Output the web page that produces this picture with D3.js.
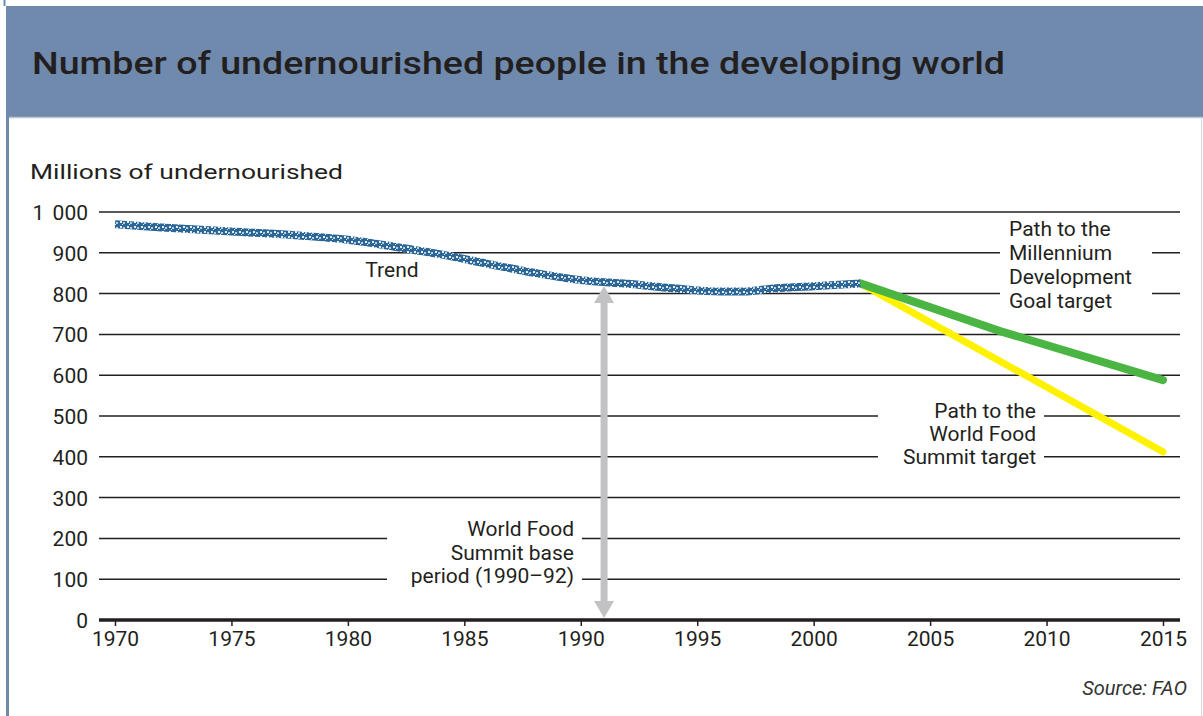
<!DOCTYPE html>
<html>
<head>
<meta charset="utf-8">
<script src="https://cdn.jsdelivr.net/npm/d3@7"></script>
<style>
  body { margin: 0; background: #fff; }
  svg { display: block; font-family: Roboto, "DejaVu Sans", sans-serif; }
</style>
</head>
<body>
<svg id="chart" width="1203" height="716"></svg>
<script>
// ---- data ----
var trendYears  = [1970, 1972, 1975, 1978, 1980, 1982, 1984, 1986, 1988, 1990, 1992, 1994, 1996, 1997, 1998, 2000, 2002];
var trendValues = [970, 962, 952, 942, 932, 915, 896, 873, 851, 833, 824, 813, 805, 805, 811, 818, 825];

var mdgYears  = [2002, 2008, 2015];
var mdgValues = [825, 708, 588];

var wfsYears  = [2002, 2015];
var wfsValues = [825, 412];

var baseYear = 1991;            // arrow for the 1990-92 base period
var baseValue = 826;

var yTicks = [0, 100, 200, 300, 400, 500, 600, 700, 800, 900, 1000];
var yTickLabels = ["0", "100", "200", "300", "400", "500", "600", "700", "800", "900", "1 000"];
var xTicks = [1970, 1975, 1980, 1985, 1990, 1995, 2000, 2005, 2010, 2015];

var titleText = "Number of undernourished people in the developing world";
var yLabelText = "Millions of undernourished";
var mdgLabel = ["Path to the", "Millennium", "Development", "Goal target"];
var wfsLabel = ["Path to the", "World Food", "Summit target"];
var baseLabel = ["World Food", "Summit base", "period (1990\u201392)"];

var ink = "#231f20";

var svg = d3.select("#chart");

// frame and header band
svg.append("rect").attr("x", 6).attr("y", 6).attr("width", 1197).attr("height", 111).attr("fill", "#6f8aad");
svg.append("line").attr("x1", 6).attr("x2", 1203).attr("y1", 117.5).attr("y2", 117.5)
  .attr("stroke", "#b9c6d8").attr("stroke-width", 1.5);
svg.append("rect").attr("x", 6).attr("y", 6).attr("width", 3).attr("height", 710).attr("fill", "#6f8aad");
svg.append("line").attr("x1", 4.5).attr("x2", 4.5).attr("y1", 0).attr("y2", 6)
  .attr("stroke", "#6f8aad").attr("stroke-width", 2);
svg.append("line").attr("x1", 1201.5).attr("x2", 1201.5).attr("y1", 118).attr("y2", 716)
  .attr("stroke", "#d5dbe4").attr("stroke-width", 1);

svg.append("text")
  .attr("x", 32).attr("y", 74)
  .attr("font-size", 32).attr("font-weight", 500)
  .attr("fill", ink)
  .attr("textLength", 973).attr("lengthAdjust", "spacingAndGlyphs")
  .text(titleText);

svg.append("text")
  .attr("x", 30).attr("y", 179)
  .attr("font-size", 21)
  .attr("fill", ink)
  .attr("textLength", 313).attr("lengthAdjust", "spacingAndGlyphs")
  .text(yLabelText);

// scales
var x = d3.scaleLinear().domain([1970, 2015]).range([115, 1163]);
var y = d3.scaleLinear().domain([0, 1000]).range([620, 212]);
var gridLeft = 99, gridRight = 1180;

// gridlines
svg.append("g").selectAll("line")
  .data(yTicks.filter(function(d) { return d > 0; }))
  .enter().append("line")
  .attr("x1", gridLeft).attr("x2", gridRight)
  .attr("y1", function(d) { return y(d); })
  .attr("y2", function(d) { return y(d); })
  .attr("stroke", ink).attr("stroke-width", 1.5);

// y tick labels
svg.append("g").selectAll("text")
  .data(yTicks)
  .enter().append("text")
  .attr("x", 88)
  .attr("y", function(d) { return y(d) + 8; })
  .attr("text-anchor", "end")
  .attr("font-size", 21)
  .attr("fill", ink)
  .attr("word-spacing", 3)
  .text(function(d, i) { return yTickLabels[i]; });

// x axis
var xAxis = d3.axisBottom(x).tickValues(xTicks).tickFormat(d3.format("d")).tickSize(6).tickPadding(5);
var gx = svg.append("g").attr("transform", "translate(0," + y(0) + ")").call(xAxis);
gx.select(".domain").remove();
gx.selectAll(".tick line").attr("stroke", ink).attr("stroke-width", 1.5);
gx.selectAll(".tick text").attr("font-size", 21).attr("fill", ink)
  .attr("font-family", "Roboto, sans-serif").attr("dy", "0.71em");
svg.append("line")
  .attr("x1", gridLeft).attr("x2", gridRight)
  .attr("y1", y(0)).attr("y2", y(0))
  .attr("stroke", ink).attr("stroke-width", 3.5);

// annotation label with a white knock-out on the gridlines
function label(lines, xPos, y0, lh, anchor, gap) {
  svg.append("rect")
    .attr("x", gap[0]).attr("y", gap[1])
    .attr("width", gap[2] - gap[0]).attr("height", gap[3] - gap[1])
    .attr("fill", "#fff");
  svg.append("g").selectAll("text")
    .data(lines).enter().append("text")
    .attr("x", xPos)
    .attr("y", function(d, i) { return y0 + i * lh; })
    .attr("text-anchor", anchor)
    .attr("font-size", 21)
    .attr("fill", ink)
    .text(function(d) { return d; });
}

label(mdgLabel, 1009, 236, 24, "start", [1000, 238, 1152, 300]);
label(wfsLabel, 1036, 418, 23, "end", [878, 398, 1044, 470]);
label(baseLabel, 574, 536, 23.5, "end", [387, 518, 582, 592]);

svg.append("text")
  .attr("x", 392).attr("y", 277)
  .attr("text-anchor", "middle")
  .attr("font-size", 21)
  .attr("fill", ink)
  .text("Trend");

// base-period arrow
var arrowX = x(baseYear);
var arrowTop = y(baseValue) + 3, arrowBot = y(0) - 2;
svg.append("line")
  .attr("x1", arrowX).attr("x2", arrowX)
  .attr("y1", arrowTop + 10).attr("y2", arrowBot - 10)
  .attr("stroke", "#c2c2c4").attr("stroke-width", 7);
svg.append("path")
  .attr("d", "M" + arrowX + "," + arrowTop + " l10,17 h-20 z")
  .attr("fill", "#c2c2c4");
svg.append("path")
  .attr("d", "M" + arrowX + "," + arrowBot + " l10,-17 h-20 z")
  .attr("fill", "#c2c2c4");

// target paths
var line = d3.line()
  .x(function(d) { return x(d[0]); })
  .y(function(d) { return y(d[1]); });

svg.append("path")
  .datum(d3.zip(wfsYears, wfsValues))
  .attr("d", line)
  .attr("fill", "none").attr("stroke", "#fff200")
  .attr("stroke-width", 7).attr("stroke-linecap", "round");

svg.append("path")
  .datum(d3.zip(mdgYears, mdgValues))
  .attr("d", line)
  .attr("fill", "none").attr("stroke", "#4bb543")
  .attr("stroke-width", 8).attr("stroke-linecap", "round");

// trend line, textured blue
var defs = svg.append("defs");
var pat = defs.append("pattern")
  .attr("id", "trendTex").attr("patternUnits", "userSpaceOnUse")
  .attr("width", 7).attr("height", 5);
pat.append("rect").attr("width", 7).attr("height", 5).attr("fill", "#2c6797");
pat.append("rect").attr("x", 1).attr("y", 1).attr("width", 2).attr("height", 2).attr("fill", "#e4edf5");
pat.append("rect").attr("x", 4).attr("y", 2).attr("width", 2).attr("height", 2).attr("fill", "#b7cde0");
pat.append("rect").attr("x", 3).attr("y", 4).attr("width", 1).attr("height", 1).attr("fill", "#e4edf5");

svg.append("path")
  .datum(d3.zip(trendYears, trendValues))
  .attr("d", line.curve(d3.curveMonotoneX))
  .attr("fill", "none").attr("stroke", "url(#trendTex)")
  .attr("stroke-width", 8);

// source
svg.append("text")
  .attr("x", 1187).attr("y", 695)
  .attr("text-anchor", "end")
  .attr("font-size", 20).attr("font-style", "italic")
  .attr("fill", "#333")
  .text("Source: FAO");
</script>
</body>
</html>
